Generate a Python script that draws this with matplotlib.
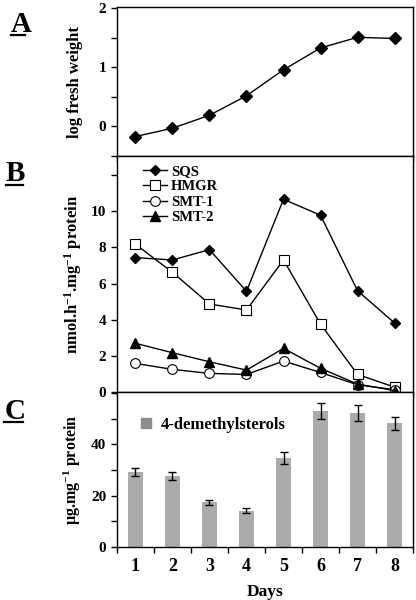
import numpy as np
import matplotlib
matplotlib.use('Agg')
import matplotlib.pyplot as plt
from matplotlib.lines import Line2D

plt.rcParams['font.family'] = ['Liberation Serif', 'DejaVu Serif']
plt.rcParams['font.weight'] = 'bold'
plt.rcParams['mathtext.fontset'] = 'custom'
plt.rcParams['mathtext.rm'] = 'Liberation Serif:bold'
plt.rcParams['mathtext.it'] = 'Liberation Serif:bold'
plt.rcParams['mathtext.bf'] = 'Liberation Serif:bold'
plt.rcParams['axes.linewidth'] = 1.0

days = [1, 2, 3, 4, 5, 6, 7, 8]

# panel A
log_fresh_weight = [-0.17, -0.03, 0.19, 0.52, 0.96, 1.33, 1.51, 1.49]

# panel B
sqs = [7.44, 7.31, 7.88, 5.58, 10.66, 9.78, 5.61, 3.83]
hmgr = [8.18, 6.63, 4.88, 4.55, 7.31, 3.77, 0.99, 0.29]
smt1 = [1.60, 1.27, 1.05, 0.99, 1.73, 1.10, 0.42, 0.15]
smt2 = [2.71, 2.19, 1.69, 1.23, 2.43, 1.33, 0.46, 0.10]

# panel C
sterols = [29.2, 27.6, 17.4, 14.2, 34.8, 52.9, 52.2, 48.2]
sterols_err = [1.7, 1.5, 1.0, 0.9, 2.3, 3.0, 3.0, 2.6]

fig = plt.figure(figsize=(4.16, 6.0), dpi=100)
left, width = 0.281, 0.712
axA = fig.add_axes([left, 0.740, width, 0.248])
axB = fig.add_axes([left, 0.346, width, 0.394])
axC = fig.add_axes([left, 0.088, width, 0.258])

half_ticks = np.arange(0.5, 9.0, 1.0)
for ax in (axA, axB, axC):
    ax.set_xlim(0.5, 8.5)
    ax.set_xticks(half_ticks)
    ax.set_xticklabels([])
    ax.tick_params(axis='both', direction='out', length=4, width=1, labelsize=11)

# A
axA.plot(days, log_fresh_weight, color='black', lw=1, marker='D', ms=6.5)
axA.set_ylim(-0.47, 2.02)
axA.set_yticks([-0.5, 0, 0.5, 1, 1.5, 2])
axA.set_yticklabels(['', '0', '', '1', '', '2'])
axA.set_ylabel('log fresh weight', fontsize=12, fontweight='bold', labelpad=11)

# B
axB.plot(days, sqs, color='black', lw=1, marker='D', ms=5.5, label='SQS')
axB.plot(days, hmgr, color='black', lw=1, marker='s', ms=7, mfc='white', mew=0.8, label='HMGR')
axB.plot(days, smt1, color='black', lw=1, marker='o', ms=7, mfc='white', mew=0.8, label='SMT-1')
axB.plot(days, smt2, color='black', lw=1, marker='^', ms=7, label='SMT-2')
axB.set_ylim(0, 13.05)
axB.set_yticks([0, 2, 4, 6, 8, 10, 12])
axB.set_yticklabels(['0', '2', '4', '6', '8', '10', ''])
axB.set_ylabel('nmol.h$^{-1}$.mg$^{-1}$ protein', fontsize=12, fontweight='bold', labelpad=5)
axB.legend(loc='upper left', bbox_to_anchor=(0.06, 1.0), frameon=False, fontsize=10.5,
           handlelength=1.6, handletextpad=0.3, labelspacing=0.15, borderaxespad=0.2)

# C
axC.bar(days, sterols, width=0.42, color='#ababab', yerr=sterols_err,
        error_kw=dict(ecolor='black', elinewidth=1, capsize=3, capthick=1),
        label='4-demethylsterols')
axC.set_ylim(0, 60.2)
axC.set_yticks([0, 10, 20, 30, 40, 50, 60])
axC.set_yticklabels(['0', '', '20', '', '40', '', ''])
axC.set_xticks(days, minor=True)
axC.set_xticklabels([str(d) for d in days], minor=True)
axC.tick_params(axis='x', which='minor', length=0, labelsize=13, pad=8)
axC.set_xlabel('Days', fontsize=12.5, fontweight='bold', labelpad=6)
axC.set_ylabel('\u00b5g.mg$^{-1}$ protein', fontsize=11.5, fontweight='bold', labelpad=6)
axC.legend(handles=[Line2D([], [], ls='none', marker='s', ms=7, color='#8c8c8c')],
           labels=['4-demethylsterols'], loc='upper left', bbox_to_anchor=(0.02, 0.94),
           frameon=False, fontsize=12, handlelength=1.0, handletextpad=0.4)

for ax in (axA, axB, axC):
    for t in ax.get_yticklabels():
        t.set_fontweight('bold')

# panel letters with underline
for letter, x, y, w in (('A', 0.026, 0.947, 0.034), ('B', 0.014, 0.698, 0.042), ('C', 0.010, 0.302, 0.046)):
    fig.text(x, y, letter, fontsize=21, fontweight='bold', ha='left', va='baseline')
    fig.add_artist(Line2D([x, x + w], [y - 0.006, y - 0.006], color='black', lw=1.6,
                          transform=fig.transFigure))

plt.savefig('out.png', dpi=100)
